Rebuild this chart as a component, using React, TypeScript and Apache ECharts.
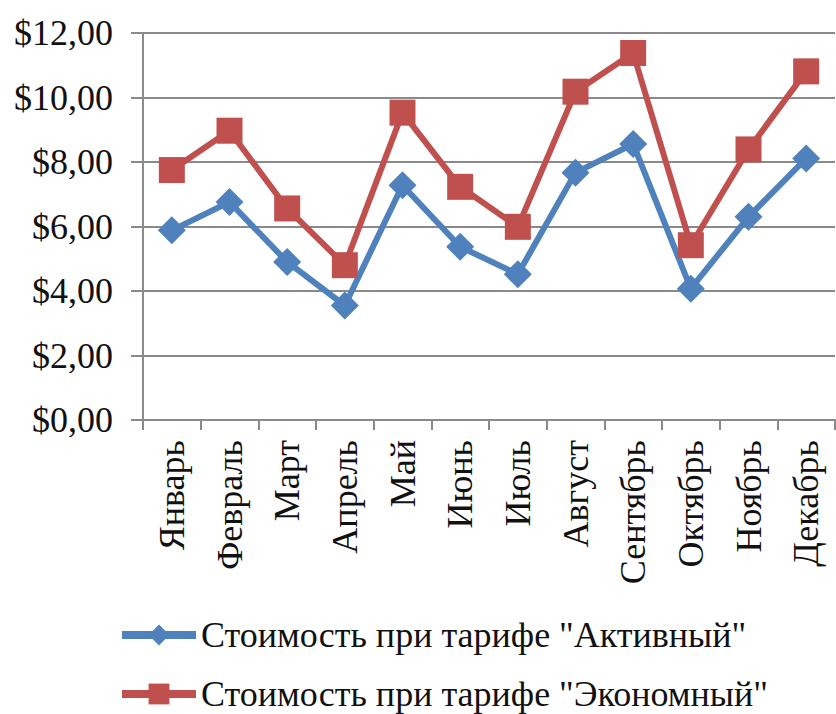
import React, { useEffect, useRef } from "react";
import * as echarts from "echarts";

const months = ["Январь", "Февраль", "Март", "Апрель", "Май", "Июнь", "Июль", "Август", "Сентябрь", "Октябрь", "Ноябрь", "Декабрь"];
const activeCost = [5.88, 6.76, 4.9, 3.55, 7.28, 5.37, 4.52, 7.67, 8.56, 4.07, 6.3, 8.11];
const economyCost = [7.75, 8.97, 6.56, 4.8, 9.53, 7.23, 5.99, 10.18, 11.38, 5.42, 8.39, 10.81];
const activeName = 'Стоимость при тарифе "Активный"';
const economyName = 'Стоимость при тарифе "Экономный"';

const FONT = "Liberation Serif";
const GRID = "#8a8a8a";
const BLUE = "#4F81BD";
const RED = "#C0504D";

const legendBase = {
  orient: "horizontal",
  left: 113,
  padding: [0, 5, 0, 5],
  itemWidth: 74,
  itemHeight: 26,
  lineStyle: { width: 8 },
  textStyle: { fontFamily: FONT, fontSize: 36, color: "#111" },
};

export default function App() {
  const ref = useRef<HTMLDivElement>(null);
  useEffect(() => {
    document.body.style.margin = "0";
    const chart = echarts.init(ref.current!, null, { renderer: "svg" });
    chart.setOption({
      animation: false,
      backgroundColor: "#ffffff",
      textStyle: { fontFamily: FONT, color: "#111" },
      grid: { left: 143, right: 1, top: 33, bottom: 294, containLabel: false },
      legend: [
        { ...legendBase, top: 617, data: [activeName] },
        { ...legendBase, top: 676, data: [economyName] },
      ],
      xAxis: {
        type: "category",
        data: months,
        boundaryGap: true,
        axisLine: { lineStyle: { color: GRID, width: 2 } },
        axisTick: { show: true, length: 10, lineStyle: { color: GRID, width: 2 } },
        axisLabel: { rotate: 90, margin: 20, fontFamily: FONT, fontSize: 36, color: "#111" },
        splitLine: { show: false },
      },
      yAxis: {
        type: "value",
        min: 0,
        max: 12,
        interval: 2,
        axisLine: { show: true, lineStyle: { color: GRID, width: 2 } },
        axisTick: { show: true, length: 12, lineStyle: { color: GRID, width: 2 } },
        axisLabel: {
          margin: 30,
          fontFamily: FONT,
          fontSize: 36,
          color: "#111",
          formatter: (v: number) => "$" + v.toFixed(2).replace(".", ","),
        },
        splitLine: { show: true, lineStyle: { color: GRID, width: 2 } },
      },
      series: [
        {
          name: activeName,
          type: "line",
          data: activeCost,
          color: BLUE,
          lineStyle: { width: 6, color: BLUE },
          symbol: "diamond",
          symbolSize: 28,
          itemStyle: { color: BLUE },
        },
        {
          name: economyName,
          type: "line",
          data: economyCost,
          color: RED,
          lineStyle: { width: 6, color: RED },
          symbol: "rect",
          symbolSize: 26,
          itemStyle: { color: RED },
        },
      ],
    });
    return () => chart.dispose();
  }, []);
  return <div ref={ref} style={{ width: 836, height: 714 }} />;
}
